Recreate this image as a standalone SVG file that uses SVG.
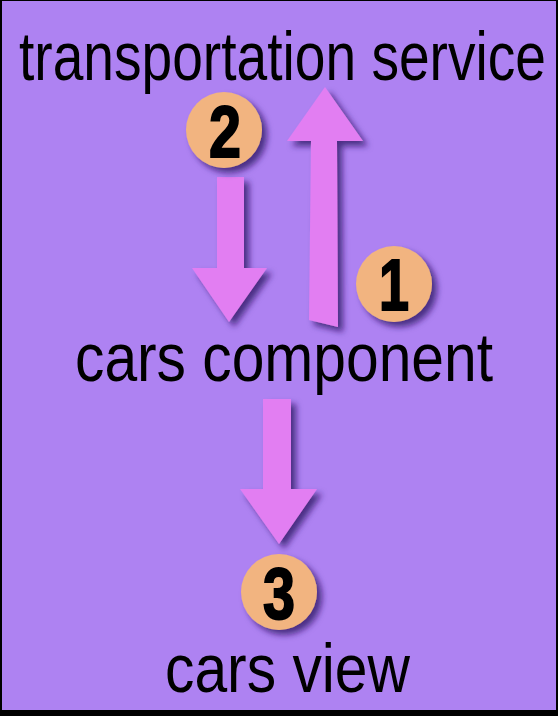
<svg xmlns="http://www.w3.org/2000/svg" width="558" height="716" viewBox="0 0 558 716">
<defs>
<style>
.lbl{font-family:"Liberation Sans",Arial,sans-serif;font-size:68px;fill:#000}
.num{font-family:"Liberation Sans",Arial,sans-serif;font-weight:bold;font-size:72px;fill:#000;stroke:#000;stroke-width:2}
.badge{fill:#F2B480}
.arrow{fill:#E27EF2}
</style>
<filter id="sh" x="-30%" y="-30%" width="160%" height="160%">
<feDropShadow dx="5" dy="5" stdDeviation="3" flood-color="#2a1060" flood-opacity="0.75"/>
</filter>
</defs>
<rect x="0" y="0" width="558" height="716" fill="#000"/>
<rect x="2" y="1" width="554" height="709" fill="#AE82F2"/>
<g id="connectors" filter="url(#sh)">
<polygon id="arrow1" class="arrow" points="311,141 287,141 325,87 363,141 337,141 338,327 309,320"/>
<polygon id="arrow2" class="arrow" points="217,177 244,177 244,268 267,268 229,322 192,268 217,268"/>
<polygon id="arrow3" class="arrow" points="263,399 291,399 291,489 317,489 279,544 240,489 263,489"/>
</g>
<g id="node-transportation-service">
<text class="lbl" x="19" y="80" textLength="527" lengthAdjust="spacingAndGlyphs">transportation service</text>
</g>
<g id="node-cars-component">
<text class="lbl" x="75" y="381" textLength="418" lengthAdjust="spacingAndGlyphs">cars component</text>
</g>
<g id="node-cars-view">
<text class="lbl" x="165" y="692" textLength="245" lengthAdjust="spacingAndGlyphs">cars view</text>
</g>
<g id="badge1" filter="url(#sh)">
<circle class="badge" cx="394" cy="284" r="38"/>
<text class="num" x="394" y="310" text-anchor="middle" textLength="30" lengthAdjust="spacingAndGlyphs">1</text>
</g>
<g id="badge2" filter="url(#sh)">
<circle class="badge" cx="224" cy="130" r="38"/>
<text class="num" x="225" y="157" text-anchor="middle" textLength="32" lengthAdjust="spacingAndGlyphs">2</text>
</g>
<g id="badge3" filter="url(#sh)">
<circle class="badge" cx="279" cy="592" r="38"/>
<text class="num" x="279" y="619" text-anchor="middle" textLength="32" lengthAdjust="spacingAndGlyphs">3</text>
</g>
</svg>
